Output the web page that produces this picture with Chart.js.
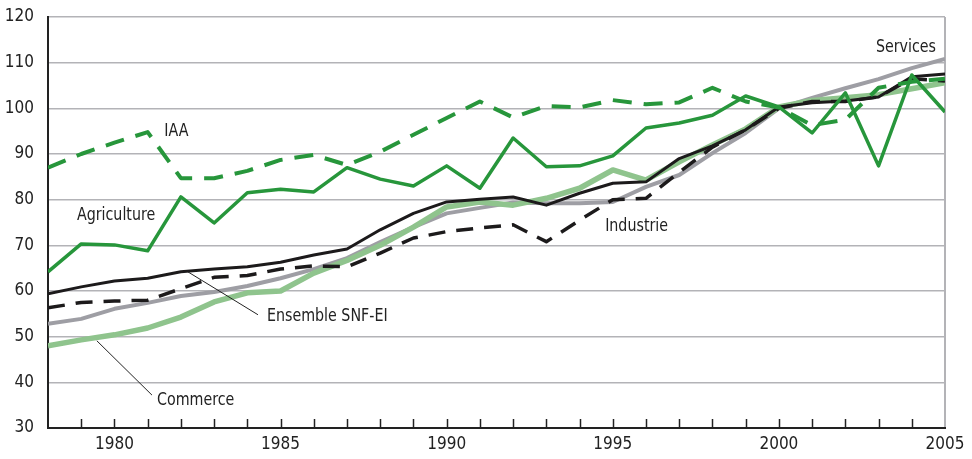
<!DOCTYPE html>
<html>
<head>
<meta charset="utf-8">
<script src="https://cdn.jsdelivr.net/npm/chart.js@4"></script>
<style>
  html, body { margin: 0; padding: 0; background: #fff; }
  #wrap { width: 972px; height: 459px; }
</style>
</head>
<body>
<div id="wrap"><canvas id="chart" width="972" height="459"></canvas></div>
<script>
// années 1978 - 2005
const years = [1978, 1979, 1980, 1981, 1982, 1983, 1984, 1985, 1986, 1987, 1988, 1989, 1990, 1991,
  1992, 1993, 1994, 1995, 1996, 1997, 1998, 1999, 2000, 2001, 2002, 2003, 2004, 2005];

const iaa = [87, 90, 92.5, 94.8, 84.7, 84.7, 86.3, 88.7, 89.8, 87.6, 90.5, 94.2, 97.9, 101.5,
  98, 100.5, 100.2, 101.8, 100.9, 101.3, 104.5, 101.5, 100.2, 96.3, 97.5, 104.5, 105.8, 106.5];
const agriculture = [64.2, 70.3, 70.1, 68.8, 80.6, 74.9, 81.5, 82.3, 81.7, 87, 84.5, 83, 87.4, 82.5,
  93.5, 87.2, 87.4, 89.6, 95.7, 96.8, 98.5, 102.7, 100.3, 94.6, 103.4, 87.4, 107.3, 99.2];
const services = [52.8, 53.9, 56.1, 57.4, 58.9, 59.8, 61.1, 62.8, 64.8, 67.2, 70.7, 74, 77, 78.2,
  79.4, 79.2, 79.2, 79.5, 82.8, 85.4, 90.2, 94.6, 100, 102.3, 104.4, 106.4, 108.8, 110.8];
const ensemble = [59.4, 60.9, 62.2, 62.8, 64.2, 64.8, 65.3, 66.3, 67.9, 69.2, 73.4, 77, 79.5, 80.1,
  80.6, 78.8, 81.4, 83.6, 83.9, 89, 91.8, 95.3, 100.3, 101.2, 101.6, 102.5, 106.9, 107.5];
const industrie = [56.3, 57.5, 57.8, 58, 60.5, 63, 63.4, 64.8, 65.5, 65.3, 68.3, 71.6, 73, 73.8,
  74.5, 70.8, 75.5, 80, 80.3, 86, 91.5, 95.3, 100, 101.5, 101.5, 102.5, 106.5, 106];
const commerce = [48, 49.3, 50.4, 51.9, 54.3, 57.6, 59.6, 60, 63.9, 66.7, 70, 74, 78.4, 79.5,
  78.8, 80.3, 82.5, 86.5, 84.3, 88.3, 92, 95.5, 100.3, 101.7, 102.3, 103, 104.3, 105.6];

const xTicks = [1980, 1985, 1990, 1995, 2000, 2005];

const FONT = "'Liberation Sans Narrow', 'DejaVu Sans Condensed', 'Arial Narrow', sans-serif";
const GREEN = '#27963b';
const GRID = '#b3b3b7';

function pts(values) {
  return years.map((y, i) => ({ x: y, y: values[i] }));
}

// petits traits des années, dessinés vers l'intérieur
const innerTicks = {
  id: 'innerTicks',
  afterDatasetsDraw(chart) {
    const { ctx, scales: { x }, chartArea } = chart;
    ctx.save();
    ctx.strokeStyle = '#222';
    ctx.lineWidth = 1.5;
    years.forEach(function(yr) {
      if (yr === years[0] || yr === years[years.length - 1]) return;
      const px = Math.round(x.getPixelForValue(yr)) + 0.5;
      ctx.beginPath();
      ctx.moveTo(px, chartArea.bottom);
      ctx.lineTo(px, chartArea.bottom - 9);
      ctx.stroke();
    });
    ctx.restore();
  }
};

// étiquettes des séries et traits de rappel
const seriesLabels = {
  id: 'seriesLabels',
  afterDraw(chart) {
    const { ctx, scales: { x, y } } = chart;
    const labels = [
      { text: 'IAA', x: 1981.5, y: 95.0, align: 'left' },
      { text: 'Agriculture', x: 1978.87, y: 76.6, align: 'left' },
      { text: 'Services', x: 2004.73, y: 113.4, align: 'right' },
      { text: 'Industrie', x: 1994.77, y: 74.2, align: 'left' },
      { text: 'Ensemble SNF-EI', x: 1984.59, y: 54.5, align: 'left' },
      { text: 'Commerce', x: 1981.28, y: 36.1, align: 'left' }
    ];
    const leaders = [
      [1982.21, 64.2, 1984.32, 54.8],
      [1979.47, 49.1, 1981.13, 37.2]
    ];
    const squeeze = 0.88;
    ctx.save();
    ctx.strokeStyle = '#222';
    ctx.lineWidth = 1;
    leaders.forEach(function(l) {
      ctx.beginPath();
      ctx.moveTo(x.getPixelForValue(l[0]), y.getPixelForValue(l[1]));
      ctx.lineTo(x.getPixelForValue(l[2]), y.getPixelForValue(l[3]));
      ctx.stroke();
    });
    ctx.fillStyle = '#222';
    ctx.font = '18px ' + FONT;
    ctx.textBaseline = 'middle';
    labels.forEach(function(l) {
      ctx.save();
      ctx.translate(x.getPixelForValue(l.x), y.getPixelForValue(l.y));
      ctx.scale(squeeze, 1);
      ctx.textAlign = l.align;
      ctx.fillText(l.text, 0, 0);
      ctx.restore();
    });
    ctx.restore();
  }
};

const ctx = document.getElementById('chart');

new Chart(ctx, {
  type: 'line',
  data: {
    datasets: [
      { label: 'IAA', data: pts(iaa), borderColor: GREEN, borderWidth: 4, borderDash: [19, 12] },
      { label: 'Agriculture', data: pts(agriculture), borderColor: GREEN, borderWidth: 3.5 },
      { label: 'Ensemble SNF-EI', data: pts(ensemble), borderColor: '#1c1a1b', borderWidth: 3 },
      { label: 'Industrie', data: pts(industrie), borderColor: '#1c1a1b', borderWidth: 3.5, borderDash: [17, 11] },
      { label: 'Commerce', data: pts(commerce), borderColor: '#8fc48d', borderWidth: 5.5 },
      { label: 'Services', data: pts(services), borderColor: '#9e9ea4', borderWidth: 4 }
    ]
  },
  options: {
    responsive: false,
    animation: false,
    events: [],
    layout: { padding: { left: 0, top: 17, right: 27, bottom: 0 } },
    elements: {
      point: { radius: 0 },
      line: { tension: 0, fill: false, borderCapStyle: 'butt', borderJoinStyle: 'round' }
    },
    plugins: {
      legend: { display: false },
      tooltip: { enabled: false }
    },
    scales: {
      x: {
        type: 'linear',
        min: 1978,
        max: 2005,
        afterBuildTicks: function(scale) {
          scale.ticks = xTicks.map(v => ({ value: v }));
        },
        afterFit: function(scale) {
          scale.height = 31;
          scale.paddingLeft = 0;
          scale.paddingRight = 0;
        },
        border: { color: '#222', width: 2 },
        grid: {
          drawTicks: false,
          lineWidth: 2,
          color: function(c) { return c.tick && c.tick.value === 2005 ? GRID : 'rgba(0,0,0,0)'; }
        },
        ticks: {
          padding: 6,
          maxRotation: 0,
          color: '#222',
          font: { family: FONT, size: 17 },
          callback: function(v) { return String(v); }
        }
      },
      y: {
        min: 30,
        max: 120,
        afterFit: function(scale) {
          scale.width = 48;
          scale.paddingTop = 0;
          scale.paddingBottom = 0;
        },
        border: { color: '#222', width: 2 },
        grid: { drawTicks: false, color: GRID, lineWidth: 1.5 },
        ticks: {
          stepSize: 10,
          padding: 14,
          color: '#222',
          font: { family: FONT, size: 17 }
        }
      }
    }
  },
  plugins: [innerTicks, seriesLabels]
});
</script>
</body>
</html>
